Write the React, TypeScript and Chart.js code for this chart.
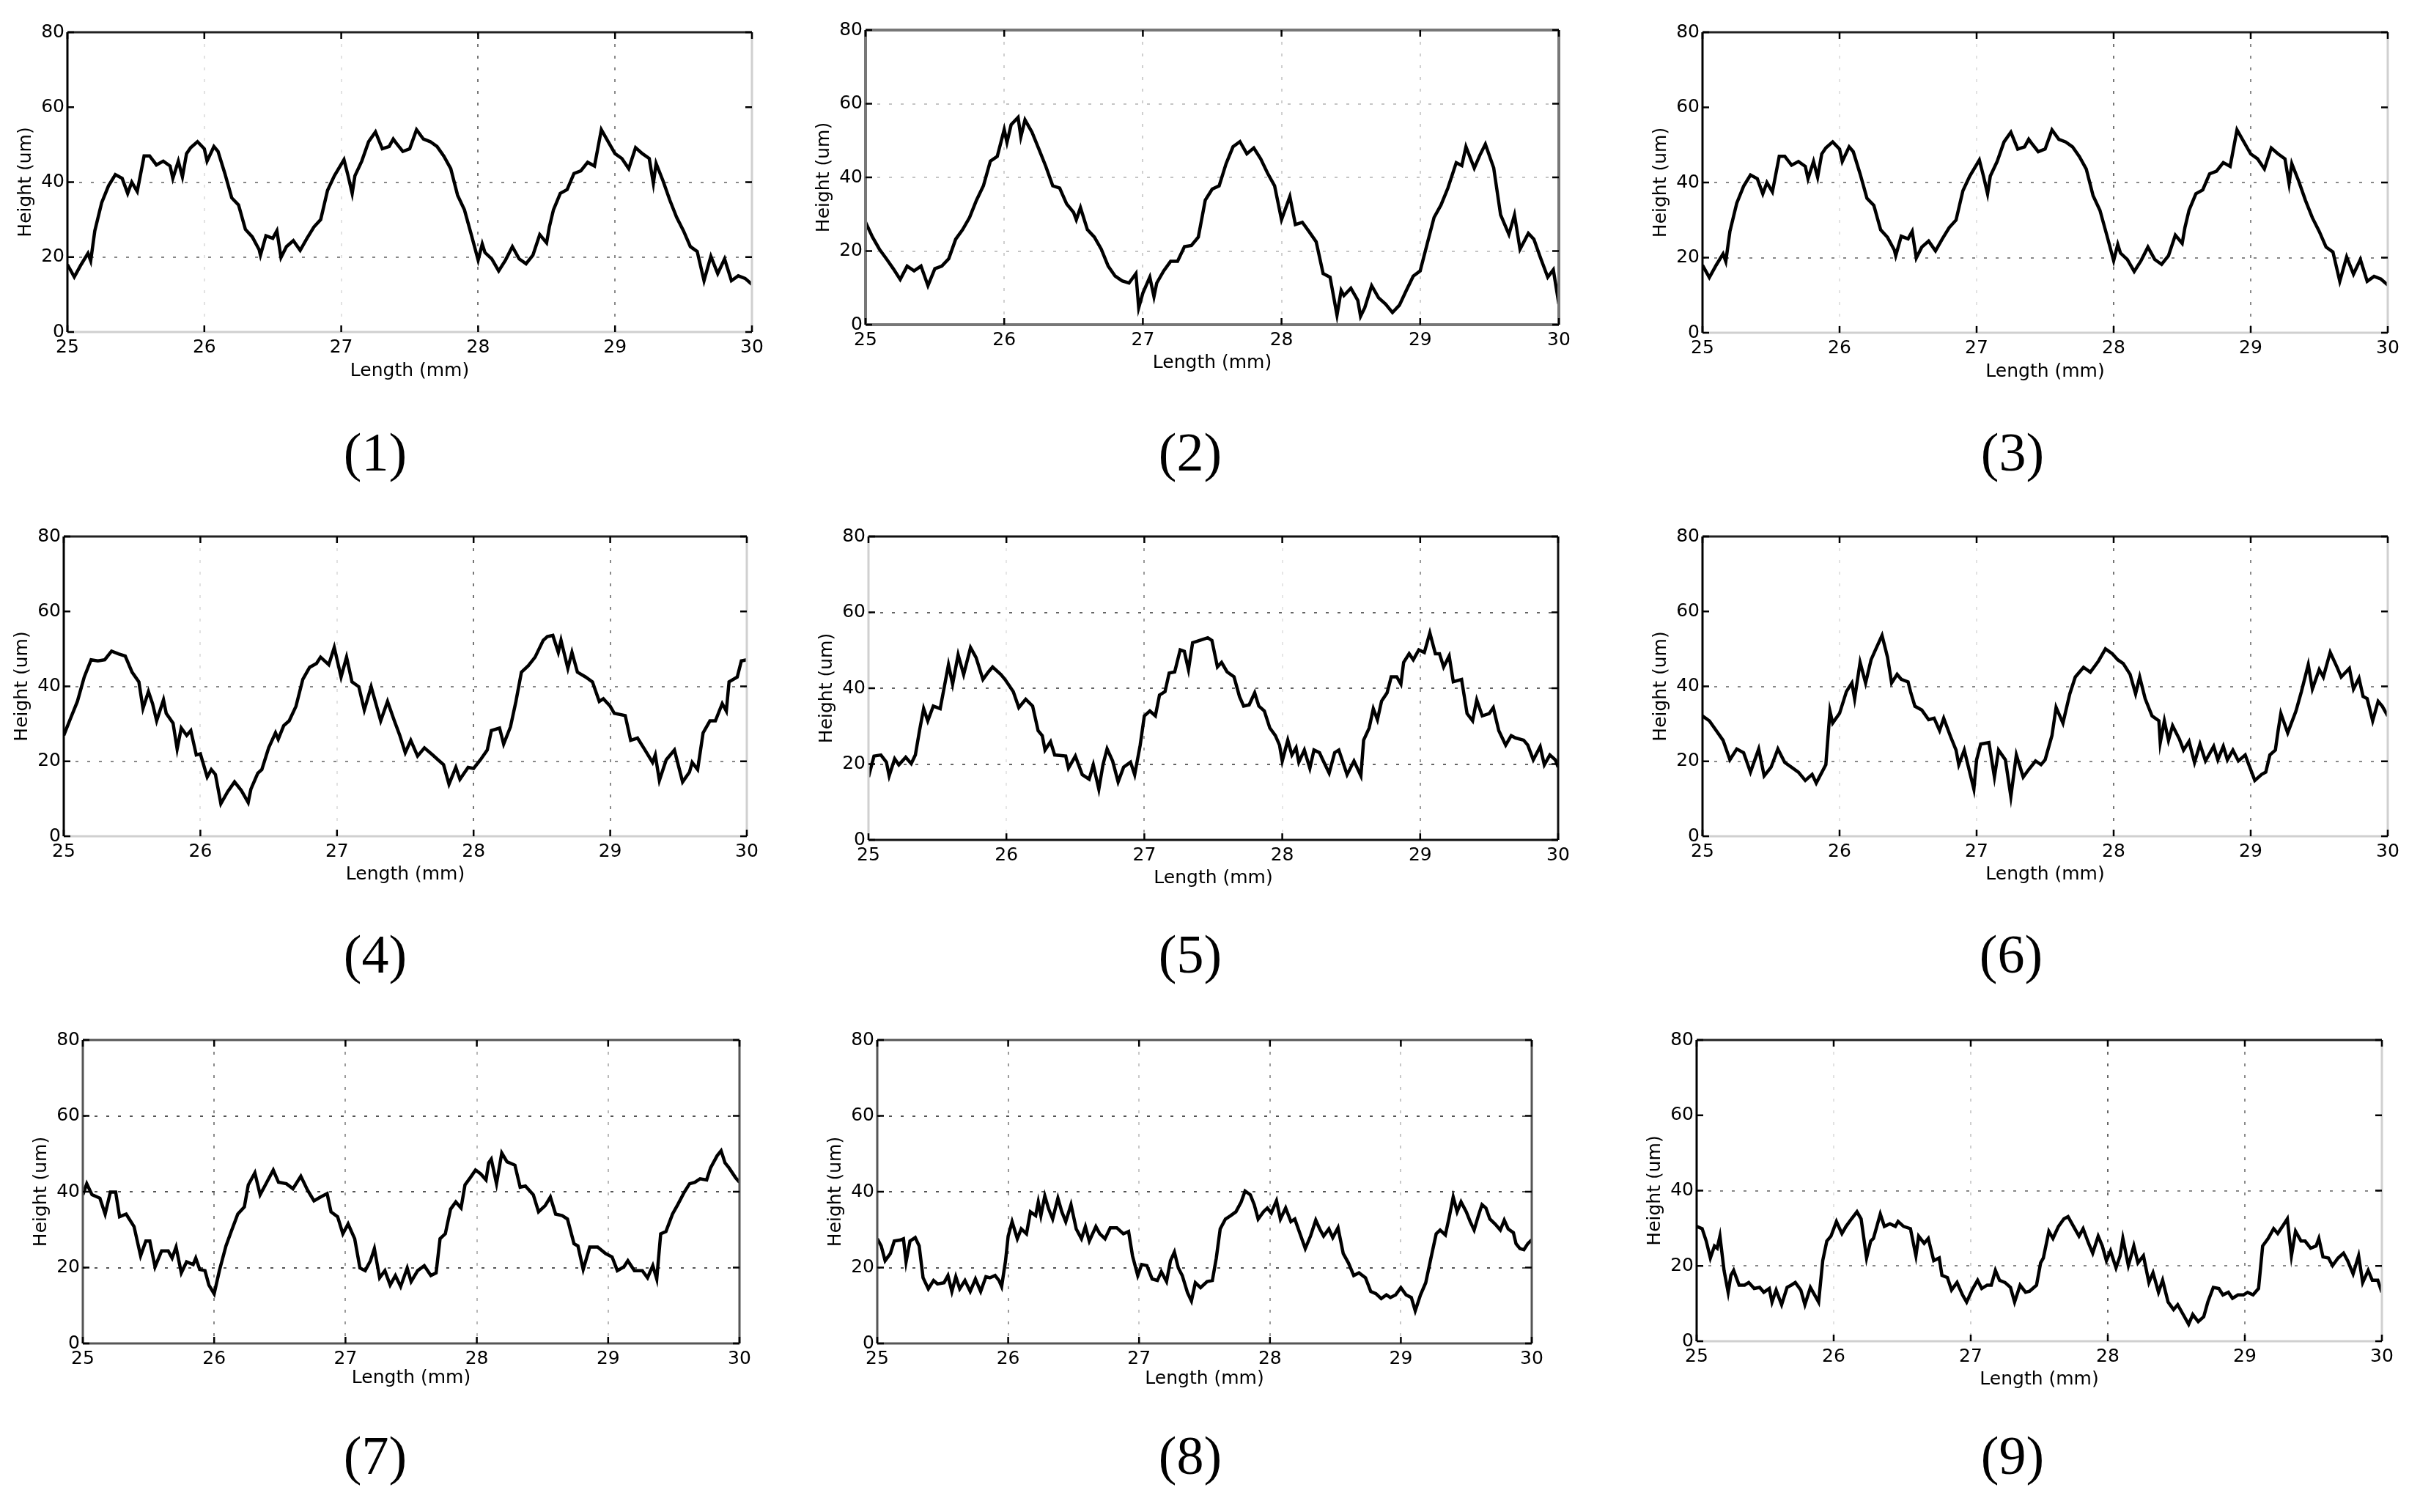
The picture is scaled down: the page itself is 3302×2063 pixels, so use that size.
import { useEffect, useRef } from 'react';
import { Chart, registerables } from 'chart.js';
Chart.register(...registerables);

type Pt = [number, number];

const xTicks = [25, 26, 27, 28, 29, 30];
const yTicks = [0, 20, 40, 60, 80];
const xTitle = 'Length (mm)';
const yTitle = 'Height (um)';
const panelLabels = ['(1)', '(2)', '(3)', '(4)', '(5)', '(6)', '(7)', '(8)', '(9)'];

const profile1: Pt[] = [[25.00,18],[25.05,14.7],[25.10,18],[25.15,21],[25.17,19],[25.20,27],[25.25,34.5],[25.30,39],[25.35,42],[25.40,41],[25.44,37],[25.47,40],[25.51,37.5],[25.56,47],[25.60,47],[25.65,44.6],[25.70,45.6],[25.75,44.3],[25.77,41],[25.81,45.6],[25.84,41.4],[25.87,47.6],[25.90,49.2],[25.95,50.8],[26.00,48.9],[26.02,45.6],[26.07,49.5],[26.10,48.2],[26.15,42.3],[26.20,35.8],[26.25,33.9],[26.30,27.4],[26.35,25.4],[26.40,22],[26.41,20.5],[26.45,25.7],[26.50,25],[26.53,27],[26.56,19.9],[26.60,22.8],[26.65,24.4],[26.70,21.8],[26.75,25],[26.80,28],[26.85,30],[26.90,37.8],[26.95,41.7],[27.02,46],[27.05,41.7],[27.08,37],[27.10,41.7],[27.15,45.6],[27.20,50.8],[27.25,53.4],[27.30,48.9],[27.35,49.5],[27.38,51.5],[27.40,50.5],[27.45,48.2],[27.50,48.9],[27.55,54],[27.60,51.5],[27.65,50.8],[27.70,49.5],[27.75,46.9],[27.80,43.6],[27.85,36.5],[27.90,32.6],[27.95,26],[28.00,19.2],[28.03,23.5],[28.05,21.2],[28.10,19.5],[28.15,16.3],[28.20,19.2],[28.25,22.8],[28.30,19.5],[28.35,18.2],[28.40,20.5],[28.45,26],[28.50,23.8],[28.52,28],[28.55,32.6],[28.60,37],[28.65,38],[28.70,42.3],[28.75,43],[28.80,45.3],[28.85,44.3],[28.90,54],[28.95,50.8],[29.00,47.6],[29.05,46.3],[29.10,43.6],[29.15,49.2],[29.20,47.6],[29.25,46.3],[29.28,39.7],[29.30,45],[29.35,40.4],[29.40,35.2],[29.45,30.6],[29.50,27],[29.55,22.8],[29.60,21.5],[29.65,13.7],[29.70,20.2],[29.75,15.6],[29.80,19.5],[29.85,13.7],[29.90,15],[29.95,14.3],[30.00,12.7]];

const profile2: Pt[] = [[25.00,27.8],[25.05,23.8],[25.10,20.5],[25.15,17.9],[25.20,15.2],[25.25,12.3],[25.30,15.9],[25.35,14.6],[25.40,15.9],[25.45,10.6],[25.50,15.2],[25.55,15.9],[25.60,17.9],[25.65,23.2],[25.70,25.8],[25.75,29.1],[25.80,33.8],[25.85,37.7],[25.90,44.4],[25.95,45.7],[26.00,53],[26.02,49.5],[26.05,54.3],[26.10,56.3],[26.12,51],[26.15,55.6],[26.20,52.3],[26.25,47.7],[26.30,43],[26.35,37.7],[26.40,37.1],[26.45,32.8],[26.50,30.5],[26.52,28.5],[26.55,31.8],[26.60,25.8],[26.65,23.8],[26.70,20.5],[26.75,15.9],[26.80,13.2],[26.85,11.9],[26.90,11.3],[26.95,13.9],[26.97,4.6],[27.00,8.6],[27.05,12.9],[27.08,7.6],[27.10,11.3],[27.15,14.6],[27.20,17.2],[27.25,17.2],[27.30,21.2],[27.35,21.5],[27.40,23.8],[27.45,33.8],[27.50,36.8],[27.55,37.7],[27.60,43.7],[27.65,48.3],[27.70,49.7],[27.75,46.4],[27.80,48],[27.85,45],[27.90,41.1],[27.95,37.7],[28.00,28.5],[28.06,34.8],[28.10,27.2],[28.15,27.8],[28.20,25.2],[28.25,22.5],[28.30,13.9],[28.35,12.9],[28.40,2.6],[28.43,9.3],[28.45,7.9],[28.50,9.9],[28.55,6.6],[28.57,2.3],[28.60,4.6],[28.65,10.6],[28.70,7.3],[28.75,5.6],[28.80,3.3],[28.85,5.3],[28.90,9.3],[28.95,13.2],[29.00,14.6],[29.05,21.9],[29.10,29.1],[29.15,32.5],[29.20,37.1],[29.26,44],[29.30,43.2],[29.33,48.3],[29.39,42.5],[29.43,46],[29.47,49],[29.53,42.6],[29.58,29.8],[29.64,24.5],[29.68,29.8],[29.72,20.5],[29.78,24.8],[29.82,23.2],[29.87,17.9],[29.92,12.9],[29.96,14.9],[30.00,5.6]];

// Panel (3) shows the same trace as panel (1)
const profile3: Pt[] = profile1;

const profile4: Pt[] = [[25.00,26.9],[25.05,31.5],[25.10,36],[25.15,42.5],[25.20,47.1],[25.25,46.8],[25.30,47.1],[25.35,49.4],[25.40,48.7],[25.45,48.1],[25.50,43.8],[25.55,41.2],[25.58,34.1],[25.62,38.6],[25.65,35.4],[25.68,30.8],[25.73,36.4],[25.75,32.8],[25.80,30.2],[25.83,23.3],[25.86,28.9],[25.90,26.9],[25.93,28.2],[25.97,21.7],[26.00,22],[26.05,15.8],[26.08,17.8],[26.11,16.5],[26.15,8.7],[26.20,11.9],[26.25,14.5],[26.30,12.2],[26.35,9],[26.37,12.6],[26.42,16.8],[26.45,17.8],[26.50,23.6],[26.55,27.6],[26.57,25.9],[26.61,29.5],[26.65,30.8],[26.70,34.7],[26.75,41.9],[26.80,45.1],[26.85,46.1],[26.88,47.8],[26.94,45.8],[26.98,50.4],[27.03,42.5],[27.07,47.8],[27.11,41.2],[27.16,39.9],[27.20,33.7],[27.25,39.9],[27.32,30.8],[27.37,36],[27.42,30.8],[27.46,26.9],[27.50,22.3],[27.54,25.6],[27.59,21.4],[27.64,23.6],[27.70,21.7],[27.74,20.4],[27.78,19.1],[27.82,13.9],[27.87,18.4],[27.90,15.2],[27.96,18.4],[28.00,18.1],[28.05,20.4],[28.10,23],[28.13,28.2],[28.19,28.9],[28.22,24.6],[28.27,29.2],[28.31,36],[28.35,43.8],[28.40,45.5],[28.45,47.8],[28.51,52.3],[28.54,53.3],[28.58,53.6],[28.62,49.1],[28.64,52.3],[28.69,44.8],[28.72,49.1],[28.76,43.8],[28.82,42.5],[28.87,41.2],[28.92,36],[28.95,36.7],[29.00,34.7],[29.03,32.8],[29.11,32.2],[29.15,25.6],[29.20,26.2],[29.25,23.3],[29.31,19.7],[29.33,21.7],[29.36,14.9],[29.41,20.4],[29.47,23],[29.53,14.5],[29.58,17.1],[29.60,19.7],[29.64,17.8],[29.68,27.6],[29.73,30.8],[29.77,30.8],[29.82,35.4],[29.85,33.4],[29.87,41.2],[29.93,42.5],[29.96,46.8],[30.00,47.1]];

const profile5: Pt[] = [[25.00,16.6],[25.04,22.1],[25.09,22.4],[25.13,20.5],[25.15,16.9],[25.19,21.4],[25.22,19.8],[25.27,21.8],[25.31,20.1],[25.34,22.4],[25.37,28.8],[25.40,34.6],[25.43,31.4],[25.47,35.3],[25.52,34.6],[25.55,40.4],[25.58,46.2],[25.61,41.1],[25.65,48.8],[25.69,43.6],[25.74,50.7],[25.78,48.1],[25.83,42.3],[25.87,44.3],[25.90,45.6],[25.96,43.6],[25.99,42.3],[26.05,39.1],[26.09,34.9],[26.14,37.1],[26.19,35.3],[26.23,28.8],[26.26,27.5],[26.28,23.7],[26.32,25.9],[26.35,22.4],[26.43,22.1],[26.45,18.9],[26.50,22.1],[26.55,17.2],[26.60,16],[26.63,19.8],[26.67,13.4],[26.70,19.8],[26.73,24],[26.77,20.8],[26.81,15.3],[26.85,19.2],[26.90,20.5],[26.93,17.2],[26.97,25],[27.00,32.7],[27.04,34],[27.08,32.7],[27.11,38.2],[27.15,39.1],[27.18,44],[27.22,44.3],[27.26,50.1],[27.29,49.7],[27.32,44.9],[27.35,52],[27.40,52.6],[27.46,53.3],[27.49,52.6],[27.53,45.6],[27.56,46.8],[27.60,44.3],[27.65,43],[27.69,37.8],[27.72,35.3],[27.76,35.6],[27.80,38.8],[27.83,35.3],[27.87,34],[27.91,29.5],[27.95,27.5],[27.98,25],[28.00,20.8],[28.04,26.3],[28.07,22.4],[28.10,24.3],[28.12,20.5],[28.16,23.7],[28.20,18.9],[28.23,23.7],[28.27,23],[28.29,21.4],[28.34,17.6],[28.38,23],[28.41,23.7],[28.44,20.5],[28.47,17.2],[28.52,20.8],[28.57,16.9],[28.59,26.3],[28.63,29.5],[28.66,34.6],[28.69,31.7],[28.72,36.6],[28.76,38.8],[28.79,43],[28.83,43],[28.86,41.1],[28.88,46.8],[28.92,49.1],[28.95,47.5],[28.99,50.1],[29.03,49.4],[29.07,54.6],[29.11,49.1],[29.14,49.1],[29.17,45.6],[29.21,48.5],[29.24,41.7],[29.30,42.3],[29.34,33.3],[29.38,31.4],[29.41,36.9],[29.45,32.7],[29.50,33.3],[29.53,34.9],[29.57,28.8],[29.62,25],[29.66,27.5],[29.69,26.9],[29.75,26.3],[29.78,25],[29.82,21.1],[29.87,24.6],[29.90,19.8],[29.94,22.4],[29.98,21.1],[30.00,19.2]];

const profile6: Pt[] = [[25.00,32.1],[25.05,30.8],[25.10,28.2],[25.15,25.6],[25.20,20.4],[25.25,23.3],[25.30,22.3],[25.35,17.1],[25.41,23.3],[25.45,16.1],[25.50,18.4],[25.55,23.3],[25.60,19.7],[25.65,18.4],[25.70,17.1],[25.75,14.9],[25.80,16.5],[25.83,14.2],[25.90,19.1],[25.93,33.4],[25.95,30.2],[26.00,32.8],[26.05,38.6],[26.09,40.9],[26.11,36.7],[26.15,46.4],[26.19,40.9],[26.23,47.1],[26.27,50.4],[26.31,53.6],[26.35,47.8],[26.38,40.9],[26.42,43.2],[26.45,41.9],[26.50,41.2],[26.52,38.3],[26.55,34.7],[26.60,33.7],[26.65,31.1],[26.69,31.5],[26.73,28.2],[26.76,31.5],[26.81,26.6],[26.85,23],[26.87,19.1],[26.91,23],[26.98,12.6],[27.00,20.4],[27.03,24.6],[27.09,25],[27.13,15.8],[27.16,23],[27.21,20.4],[27.25,10.6],[27.29,21.7],[27.34,15.8],[27.38,17.8],[27.43,20.1],[27.47,19.1],[27.50,20.4],[27.55,26.9],[27.58,34.4],[27.63,30.2],[27.68,38],[27.72,42.5],[27.78,45.1],[27.83,43.8],[27.89,46.8],[27.94,50],[27.99,48.7],[28.03,47.1],[28.07,46.1],[28.12,43.2],[28.16,38],[28.19,42.5],[28.23,36.7],[28.28,32.1],[28.33,30.8],[28.34,25],[28.37,30.8],[28.40,25.6],[28.43,29.5],[28.48,25.9],[28.51,23],[28.55,25.3],[28.59,19.7],[28.63,24.6],[28.67,20.1],[28.73,24],[28.76,20.4],[28.80,24],[28.83,20.4],[28.87,23],[28.91,20.1],[28.96,21.7],[28.98,19.7],[29.03,14.9],[29.08,16.5],[29.11,17.1],[29.14,21.7],[29.18,23],[29.20,28.2],[29.22,32.8],[29.27,27.6],[29.33,33.4],[29.37,38.6],[29.42,45.8],[29.45,39.3],[29.50,44.5],[29.53,42.5],[29.58,49.1],[29.63,45.1],[29.66,42.5],[29.72,44.8],[29.75,39.3],[29.79,42.2],[29.82,37.3],[29.85,36.7],[29.89,30.8],[29.93,36],[29.96,34.7],[30.00,32.1]];

const profile7: Pt[] = [[25.00,39.2],[25.03,42.1],[25.07,39.2],[25.13,38.3],[25.17,34.1],[25.21,39.9],[25.25,39.9],[25.28,33.4],[25.33,34.1],[25.39,30.8],[25.44,23.1],[25.48,27],[25.51,27],[25.55,20.2],[25.60,24.4],[25.65,24.4],[25.68,22.5],[25.71,25.4],[25.75,18.6],[25.79,21.5],[25.84,20.8],[25.86,22.5],[25.89,19.5],[25.93,19.2],[25.96,15.4],[26.00,13.1],[26.04,19.2],[26.09,25.7],[26.13,29.5],[26.18,34.1],[26.23,36],[26.26,41.8],[26.31,45],[26.35,39.2],[26.39,41.8],[26.45,45.7],[26.49,42.5],[26.55,42.1],[26.60,40.8],[26.66,44.1],[26.71,40.5],[26.76,37.6],[26.81,38.6],[26.86,39.5],[26.89,34.7],[26.94,33.4],[26.98,28.9],[27.02,31.5],[27.07,27.6],[27.11,19.9],[27.15,19.2],[27.19,21.8],[27.22,25],[27.26,17.3],[27.30,19.2],[27.34,15.4],[27.38,17.9],[27.42,15],[27.47,19.9],[27.50,16.3],[27.55,19.2],[27.60,20.5],[27.65,17.9],[27.69,18.6],[27.72,27.6],[27.76,28.9],[27.80,35.4],[27.84,37.3],[27.88,35.7],[27.91,41.8],[27.95,43.7],[27.99,45.7],[28.03,44.7],[28.07,43.1],[28.09,47.6],[28.11,48.6],[28.15,42.1],[28.19,50.2],[28.23,47.9],[28.29,47],[28.33,41.2],[28.37,41.5],[28.43,39.2],[28.47,34.7],[28.52,36.3],[28.56,38.6],[28.60,34.1],[28.65,33.7],[28.69,32.8],[28.74,26.3],[28.77,25.7],[28.81,19.5],[28.86,25.4],[28.92,25.4],[28.98,23.7],[29.03,22.8],[29.07,19.2],[29.12,20.2],[29.15,21.8],[29.20,19.2],[29.26,19.2],[29.30,17.3],[29.34,20.5],[29.37,17],[29.40,28.9],[29.44,29.5],[29.49,34.1],[29.53,36.6],[29.58,39.9],[29.62,42.1],[29.66,42.5],[29.70,43.4],[29.75,43.1],[29.78,46.3],[29.83,49.5],[29.86,50.8],[29.89,47.6],[29.92,46.3],[29.97,43.7],[30.00,42.5]];

const profile8: Pt[] = [[25.00,27.6],[25.03,25.7],[25.06,21.8],[25.10,23.7],[25.13,27],[25.18,27.3],[25.20,27.6],[25.22,21.5],[25.25,27],[25.29,27.9],[25.32,25.7],[25.35,17.3],[25.39,14.4],[25.43,16.6],[25.46,15.7],[25.51,16],[25.54,17.9],[25.57,13.7],[25.60,17.6],[25.63,14.4],[25.67,16.6],[25.71,13.7],[25.75,17],[25.79,13.7],[25.83,17.6],[25.86,17.3],[25.90,17.9],[25.93,16.6],[25.95,15],[25.98,21.8],[26.00,28.3],[26.03,32.1],[26.07,27.6],[26.10,30.2],[26.14,28.9],[26.17,34.7],[26.21,33.7],[26.23,37.3],[26.25,33.7],[26.28,38.9],[26.31,35.4],[26.34,32.8],[26.38,38.3],[26.41,34.7],[26.44,32.1],[26.48,36.6],[26.52,30.2],[26.56,27.6],[26.59,30.8],[26.62,27],[26.67,30.8],[26.70,28.9],[26.74,27.6],[26.78,30.5],[26.83,30.5],[26.88,28.9],[26.92,29.5],[26.95,23.1],[26.99,17.9],[27.02,20.8],[27.06,20.5],[27.10,17],[27.14,16.6],[27.17,18.9],[27.21,16.3],[27.24,21.8],[27.27,24.1],[27.30,19.9],[27.33,17.9],[27.37,13.4],[27.40,11.2],[27.43,16],[27.47,14.7],[27.52,16.3],[27.56,16.6],[27.59,22.5],[27.62,30.2],[27.66,32.8],[27.70,33.7],[27.74,34.7],[27.78,37.3],[27.81,40.2],[27.85,39.2],[27.88,36.6],[27.91,32.8],[27.95,34.7],[27.98,35.7],[28.01,34.4],[28.05,37.6],[28.08,32.8],[28.12,35.7],[28.16,32.1],[28.19,32.8],[28.23,28.9],[28.27,25],[28.31,28.3],[28.35,32.5],[28.38,30.2],[28.41,28.3],[28.45,30.2],[28.48,27.9],[28.52,30.5],[28.56,23.7],[28.60,21.2],[28.64,17.9],[28.68,18.6],[28.73,17.3],[28.77,13.7],[28.81,13.1],[28.85,11.8],[28.89,12.8],[28.92,12.1],[28.96,12.8],[29.00,14.7],[29.04,12.8],[29.08,12.1],[29.11,8.6],[29.15,12.8],[29.19,16],[29.23,22.5],[29.27,28.9],[29.30,29.9],[29.34,28.6],[29.37,33.4],[29.40,38.6],[29.43,34.7],[29.46,37.3],[29.50,34.7],[29.53,32.1],[29.56,29.9],[29.59,33.4],[29.62,36.6],[29.65,35.7],[29.68,32.8],[29.72,31.5],[29.76,29.9],[29.79,32.5],[29.82,30.2],[29.86,29.2],[29.88,26.3],[29.91,25],[29.94,24.7],[29.97,26.3],[30.00,27.3]];

const profile9: Pt[] = [[25.00,30.5],[25.04,29.9],[25.07,26.6],[25.10,22.1],[25.13,25.3],[25.15,24.7],[25.17,27.9],[25.20,18.8],[25.23,13],[25.25,17.5],[25.27,18.8],[25.31,14.9],[25.35,14.9],[25.38,15.6],[25.42,14],[25.46,14.3],[25.49,13],[25.53,14],[25.55,10.4],[25.58,13.6],[25.62,9.7],[25.66,14.3],[25.69,14.9],[25.72,15.6],[25.76,13.6],[25.79,9.7],[25.83,14.3],[25.87,11.7],[25.89,10.4],[25.92,21.4],[25.95,26.6],[25.98,27.9],[26.02,31.8],[26.06,28.6],[26.09,30.5],[26.13,32.5],[26.17,34.4],[26.20,32.5],[26.24,22.1],[26.27,26.6],[26.29,27.3],[26.34,33.8],[26.37,30.5],[26.41,31.2],[26.45,30.5],[26.47,31.8],[26.51,30.5],[26.56,29.9],[26.60,22.7],[26.62,27.9],[26.66,26],[26.69,27.3],[26.73,21.4],[26.77,22.1],[26.79,17.5],[26.83,16.9],[26.86,13.6],[26.90,15.6],[26.94,12.3],[26.97,10.4],[27.01,13.6],[27.05,16.2],[27.08,14],[27.12,14.9],[27.15,14.9],[27.18,18.8],[27.21,16.2],[27.25,15.6],[27.29,14.3],[27.32,10.4],[27.36,14.9],[27.40,13],[27.43,13.3],[27.48,14.9],[27.51,20.8],[27.53,22.1],[27.57,29.2],[27.60,27.3],[27.64,30.5],[27.68,32.5],[27.71,33.1],[27.75,30.5],[27.79,27.9],[27.82,29.9],[27.86,26],[27.89,23.4],[27.93,27.9],[27.96,25.3],[27.99,21.4],[28.02,24],[28.06,19.5],[28.09,22.7],[28.11,27.3],[28.15,20.1],[28.19,25.3],[28.22,20.8],[28.26,22.7],[28.30,15.6],[28.33,18.2],[28.37,13],[28.40,16.2],[28.44,10.4],[28.48,8.4],[28.51,9.7],[28.55,7.1],[28.59,4.5],[28.62,7.1],[28.66,5.2],[28.70,6.5],[28.73,10.4],[28.77,14.3],[28.81,14],[28.84,12.3],[28.88,13],[28.91,11.4],[28.95,12.3],[28.99,12.3],[29.02,13],[29.06,12.3],[29.10,14],[29.13,25.3],[29.17,27.3],[29.21,29.9],[29.24,28.6],[29.28,30.8],[29.31,32.5],[29.34,22.7],[29.37,29.2],[29.41,26.6],[29.44,26.6],[29.48,24.7],[29.52,25.3],[29.54,27.3],[29.57,22.4],[29.61,22.1],[29.64,20.1],[29.68,22.1],[29.72,23.4],[29.75,21.4],[29.79,17.9],[29.83,22.7],[29.86,15.6],[29.90,18.8],[29.93,16.2],[29.97,16.2],[30.00,13]];

const profiles: Pt[][] = [profile1, profile2, profile3, profile4, profile5, profile6, profile7, profile8, profile9];

// ---- layout / style (not data) ----
const ML = 100, MT = 24, MR = 30, MB = 80;
const FONT = { family: 'DejaVu Sans', size: 25 };
const A = ['#222', '#d0d0d0', '#d0d0d0', '#000'];
const B = ['#777', '#777', '#777', '#777'];
const C = ['#111', '#111', '#111', '#d0d0d0'];
const D = ['#555', '#555', '#555', '#555'];
// vertical grid colours for the inner ticks 26, 27, 28, 29
const VA = ['#e2e2e2', '#e2e2e2', '#777', '#8a8a8a'];
const VB = ['#d0d0d0', '#d0d0d0', '#d0d0d0', '#d0d0d0'];
const VC = ['#e6e6e6', '#9a9a9a', '#e6e6e6', '#9a9a9a'];
const VD = ['#8a8a8a', '#9a9a9a', '#b8b8b8', '#b8b8b8'];
const VE = ['#9a9a9a', '#c8c8c8', '#9a9a9a', '#c8c8c8'];
const VF = ['#e2e2e2', '#cfcfcf', '#666', '#8a8a8a'];

interface Layout { left: number; top: number; width: number; height: number; frame: string[]; frameWidth: number; titleGap: number; grid: string; vgrid: string[]; show60: boolean; }

const layouts: Layout[] = [
  { left: 92, top: 44, width: 934, height: 409, frame: A, frameWidth: 3, titleGap: 53, grid: '#888', vgrid: VA, show60: false },
  { left: 1181, top: 41, width: 946, height: 402, frame: B, frameWidth: 4, titleGap: 52, grid: '#c4c4c4', vgrid: VB, show60: true },
  { left: 2323, top: 44, width: 935, height: 410, frame: A, frameWidth: 3, titleGap: 53, grid: '#888', vgrid: VA, show60: false },
  { left: 87, top: 732, width: 932, height: 409, frame: A, frameWidth: 3, titleGap: 52, grid: '#888', vgrid: VA, show60: false },
  { left: 1185, top: 732, width: 941, height: 414, frame: C, frameWidth: 3, titleGap: 52, grid: '#666', vgrid: VC, show60: true },
  { left: 2323, top: 732, width: 935, height: 409, frame: A, frameWidth: 3, titleGap: 52, grid: '#888', vgrid: VA, show60: false },
  { left: 113, top: 1419, width: 896, height: 414, frame: D, frameWidth: 3, titleGap: 47, grid: '#555', vgrid: VD, show60: true },
  { left: 1197, top: 1419, width: 893, height: 414, frame: D, frameWidth: 3, titleGap: 48, grid: '#555', vgrid: VE, show60: true },
  { left: 2315, top: 1419, width: 935, height: 411, frame: A, frameWidth: 3, titleGap: 52, grid: '#888', vgrid: VF, show60: false },
];

const labelPos = [
  [512, 642], [1624, 642], [2746, 642],
  [512, 1327], [1624, 1327], [2744, 1327],
  [512, 2011], [1624, 2011], [2746, 2011],
];

function Panel({ data, layout }: { data: Pt[]; layout: Layout }) {
  const ref = useRef<HTMLCanvasElement>(null);
  useEffect(() => {
    const canvas = ref.current!;
    const frame = {
      id: 'matlabFrame',
      afterDraw(chart: any) {
        const { ctx, chartArea: a } = chart;
        const xs = chart.scales.x, ys = chart.scales.y;
        ctx.save();
        const sides = [
          [a.left, a.top, a.right, a.top],
          [a.right, a.top, a.right, a.bottom],
          [a.left, a.bottom, a.right, a.bottom],
          [a.left, a.top, a.left, a.bottom],
        ];
        sides.forEach((s, i) => {
          ctx.strokeStyle = layout.frame[i];
          ctx.lineWidth = layout.frameWidth;
          ctx.beginPath();
          ctx.moveTo(s[0], s[1]);
          ctx.lineTo(s[2], s[3]);
          ctx.stroke();
        });
        const TL = 9;
        ctx.strokeStyle = '#000';
        ctx.lineWidth = 2.5;
        ctx.beginPath();
        xs.ticks.forEach((t: any) => {
          const p = xs.getPixelForValue(t.value);
          ctx.moveTo(p, a.bottom); ctx.lineTo(p, a.bottom - TL);
          ctx.moveTo(p, a.top); ctx.lineTo(p, a.top + TL);
        });
        ys.ticks.forEach((t: any) => {
          const p = ys.getPixelForValue(t.value);
          ctx.moveTo(a.left, p); ctx.lineTo(a.left + TL, p);
          ctx.moveTo(a.right, p); ctx.lineTo(a.right - TL, p);
        });
        ctx.stroke();
        ctx.restore();
      },
    };
    const chart = new Chart(canvas, {
      type: 'line',
      data: {
        datasets: [{
          data: data.map(([x, y]) => ({ x, y })),
          borderColor: '#000',
          borderWidth: 4.5,
          pointRadius: 0,
          tension: 0,
          fill: false,
        }],
      },
      options: {
        animation: false,
        responsive: false,
        devicePixelRatio: 1,
        layout: { padding: { left: 0, top: MT, right: MR, bottom: 0 } },
        plugins: { legend: { display: false }, tooltip: { enabled: false } },
        scales: {
          x: {
            type: 'linear',
            min: xTicks[0],
            max: xTicks[xTicks.length - 1],
            afterBuildTicks: (s: any) => { s.ticks = xTicks.map((v) => ({ value: v })); },
            afterFit: (s: any) => { s.height = MB; },
            ticks: { font: FONT, color: '#000', padding: 6, maxRotation: 0, autoSkip: false },
            grid: {
              color: (c: any) => {
                const i = xTicks.indexOf(c.tick ? c.tick.value : -1);
                return i > 0 && i < xTicks.length - 1 ? layout.vgrid[i - 1] : 'rgba(0,0,0,0)';
              },
              lineWidth: 2,
              drawTicks: false,
            },
            border: { display: false, dash: [4, 12] },
            title: { display: true, text: xTitle, font: FONT, color: '#000', padding: { top: 0, bottom: MB - layout.titleGap - 15 } },
          },
          y: {
            type: 'linear',
            min: yTicks[0],
            max: yTicks[yTicks.length - 1],
            afterBuildTicks: (s: any) => { s.ticks = yTicks.map((v) => ({ value: v })); },
            afterFit: (s: any) => { s.width = ML; },
            ticks: { font: FONT, color: '#000', padding: 4, autoSkip: false },
            grid: {
              color: (c: any) => {
                const v = c.tick ? c.tick.value : -1;
                if (v === 60 && !layout.show60) return 'rgba(0,0,0,0)';
                return layout.grid;
              },
              lineWidth: 2,
              drawTicks: false,
            },
            border: { display: false, dash: [4, 12] },
            title: { display: true, text: yTitle, font: FONT, color: '#000', padding: { top: ML - 57 - 15, bottom: 0 } },
          },
        },
      },
      plugins: [frame],
    } as any);
    return () => chart.destroy();
  }, [data, layout]);
  return (
    <canvas
      ref={ref}
      width={layout.width + ML + MR}
      height={layout.height + MT + MB}
      style={{ position: 'absolute', left: layout.left - ML, top: layout.top - MT, width: layout.width + ML + MR, height: layout.height + MT + MB }}
    />
  );
}

export default function App() {
  return (
    <div style={{ position: 'absolute', left: 0, top: 0, width: 3302, height: 2063, background: '#fff', overflow: 'hidden' }}>
      {profiles.map((p, i) => (
        <Panel key={i} data={p} layout={layouts[i]} />
      ))}
      {panelLabels.map((t, i) => (
        <div
          key={t}
          style={{
            position: 'absolute',
            left: labelPos[i][0] - 150,
            top: labelPos[i][1] - 62,
            width: 300,
            textAlign: 'center',
            fontFamily: '"Liberation Serif", "Times New Roman", serif',
            fontSize: 74,
            lineHeight: '74px',
            color: '#000',
          }}
        >
          {t}
        </div>
      ))}
    </div>
  );
}
